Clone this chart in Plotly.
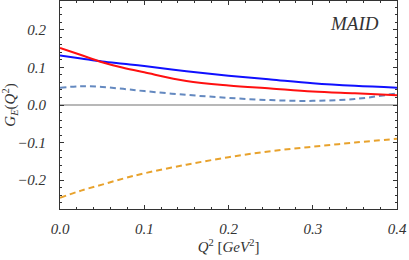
import plotly.graph_objects as go

q = [0.0, 0.025, 0.05, 0.075, 0.1, 0.15, 0.2, 0.25, 0.3, 0.35, 0.4]
blue = [0.132, 0.124, 0.116, 0.110, 0.104, 0.090, 0.078, 0.068, 0.058, 0.051, 0.046]
red = [0.152, 0.133, 0.114, 0.099, 0.087, 0.064, 0.052, 0.044, 0.036, 0.031, 0.026]
dashed_blue = [0.046, 0.050, 0.048, 0.043, 0.037, 0.027, 0.019, 0.013, 0.011, 0.016, 0.031]
dashed_orange = [-0.247, -0.228, -0.212, -0.196, -0.182, -0.159, -0.139, -0.123, -0.111, -0.100, -0.090]

x_tick_vals = [0.0, 0.1, 0.2, 0.3, 0.4]
x_tick_text = ["0.0", "0.1", "0.2", "0.3", "0.4"]
y_tick_vals = [-0.2, -0.1, 0.0, 0.1, 0.2]
y_tick_text = ["\u22120.2", "\u22120.1", "0.0", "0.1", "0.2"]

fig = go.Figure()
fig.add_trace(go.Scatter(x=[0, 0.4], y=[0, 0], mode="lines",
                         line=dict(color="#a0a0a0", width=1.5), hoverinfo="skip"))
fig.add_trace(go.Scatter(x=q, y=dashed_orange, mode="lines", line_shape="spline",
                         line=dict(color="#e8a22c", width=2, dash="6px,4px")))
fig.add_trace(go.Scatter(x=q, y=dashed_blue, mode="lines", line_shape="spline",
                         line=dict(color="#6489c0", width=2, dash="6px,4px")))
fig.add_trace(go.Scatter(x=q, y=blue, mode="lines", line_shape="spline",
                         line=dict(color="#1010ff", width=2)))
fig.add_trace(go.Scatter(x=q, y=red, mode="lines", line_shape="spline",
                         line=dict(color="#ff1010", width=2)))

SERIF = "Liberation Serif, Times New Roman, serif"
tickfont = dict(family=SERIF, size=15, color="#333333")
axis_common = dict(showline=True, linecolor="#333333", linewidth=1, mirror="ticks",
                   ticks="inside", ticklen=4, tickcolor="#333333", showgrid=False,
                   zeroline=False, tickfont=tickfont, tickmode="array",
                   minor=dict(ticks="inside", ticklen=2, tickmode="linear", tick0=0,
                              dtick=0.02, tickcolor="#333333", showgrid=False))

fig.update_layout(
    width=409, height=260,
    margin=dict(l=60, r=12, t=1, b=51),
    plot_bgcolor="white", paper_bgcolor="white",
    showlegend=False,
    xaxis=dict(range=[0, 0.4], tickvals=x_tick_vals,
               ticktext=["<i>%s</i>" % t for t in x_tick_text], ticklabelstandoff=6,
               title=dict(text="<i>Q</i><sup>2</sup> [<i>GeV</i><sup>2</sup>]",
                          font=dict(family=SERIF, size=15, color="#333333"),
                          standoff=4),
               **axis_common),
    yaxis=dict(range=[-0.277, 0.277], tickvals=y_tick_vals,
               ticktext=["<i>%s</i>" % t for t in y_tick_text], ticklabelstandoff=10,
               title=dict(text="<i>G<sub>E</sub></i>(<i>Q</i><sup>2</sup>)",
                          font=dict(family=SERIF, size=15, color="#333333"),
                          standoff=4),
               **axis_common),
    annotations=[dict(text="<i>MAID</i>", x=0.35, y=0.218, xref="x", yref="y",
                      showarrow=False,
                      font=dict(family=SERIF, size=19, color="#333333"))],
)

fig.write_html("out.html", config={"displayModeBar": False},
               post_script="document.body.style.margin='0';document.body.style.padding='0';")
